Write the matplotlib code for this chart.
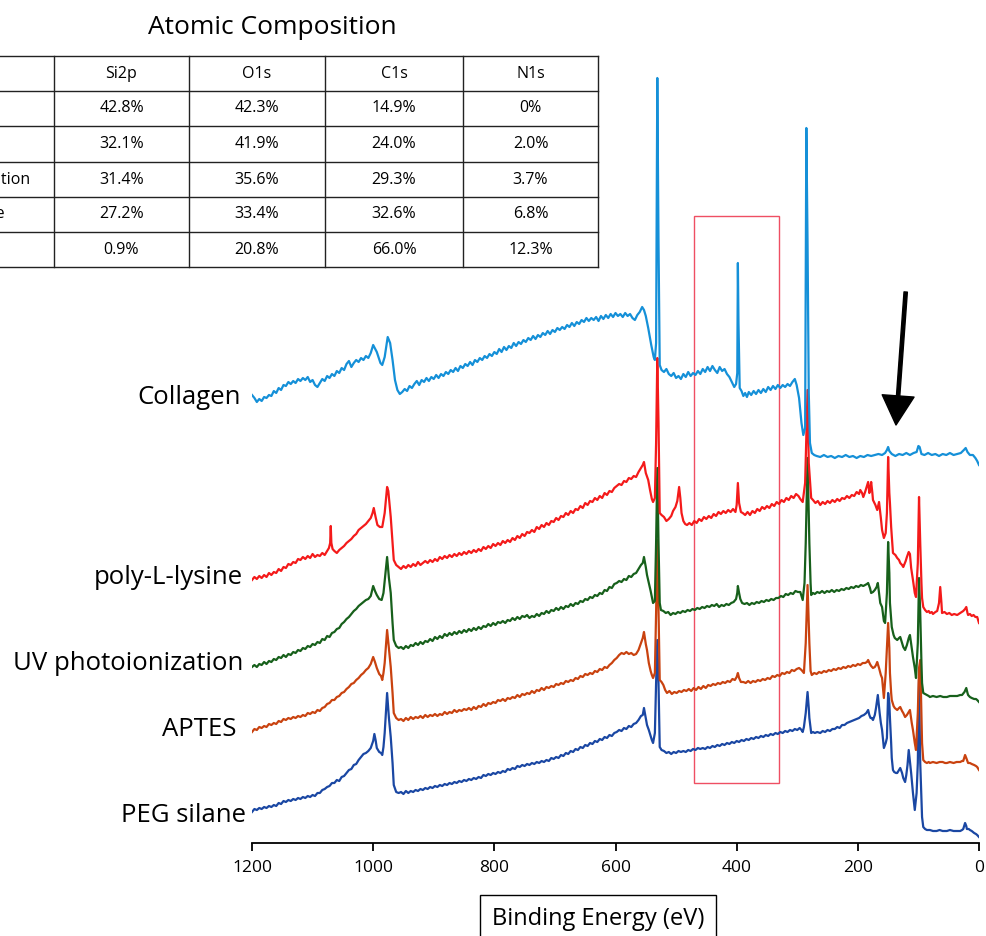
import matplotlib
matplotlib.use("Agg")
import matplotlib.pyplot as plt
from matplotlib.patches import Rectangle

plt.rcParams['font.family'] = ['Open Sans', 'DejaVu Sans']

# XPS survey spectra: (binding energy eV, intensity a.u. incl. stack offset)
collagen = [
    (1200, 448), (1196, 445), (1192, 441), (1188, 444), (1184, 442), (1180, 446), (1176, 445),
    (1172, 448), (1168, 447), (1164, 452), (1160, 450), (1156, 455), (1152, 453), (1148, 458),
    (1144, 457), (1140, 461), (1136, 459), (1132, 462), (1128, 460), (1124, 464), (1120, 462),
    (1116, 465), (1112, 463), (1108, 466), (1104, 461), (1100, 463), (1096, 458), (1092, 456),
    (1088, 460), (1084, 464), (1080, 462), (1076, 467), (1072, 465), (1068, 469), (1064, 467),
    (1060, 472), (1056, 470), (1052, 475), (1048, 473), (1044, 479), (1040, 482), (1036, 476),
    (1032, 480), (1028, 483), (1024, 481), (1020, 485), (1016, 483), (1012, 487), (1008, 485),
    (1004, 490), (1000, 498), (994, 491), (988, 480), (985, 478), (981, 486), (976, 506),
    (972, 500), (968, 483), (964, 463), (960, 453), (956, 449), (952, 451), (948, 454),
    (944, 452), (940, 457), (936, 455), (932, 459), (928, 462), (924, 458), (920, 463),
    (916, 461), (912, 465), (908, 462), (904, 466), (900, 464), (896, 468), (892, 465),
    (888, 469), (884, 467), (880, 471), (876, 469), (872, 473), (868, 471), (864, 475),
    (860, 472), (856, 477), (852, 475), (848, 479), (844, 477), (840, 481), (836, 478),
    (832, 483), (828, 481), (824, 485), (820, 483), (816, 487), (812, 485), (808, 489),
    (804, 487), (800, 491), (796, 489), (792, 494), (788, 491), (784, 496), (780, 493),
    (776, 497), (772, 495), (768, 500), (764, 497), (760, 501), (756, 499), (752, 503),
    (748, 501), (744, 505), (740, 503), (736, 507), (732, 504), (728, 508), (724, 506),
    (720, 510), (716, 508), (712, 512), (708, 509), (704, 513), (700, 511), (696, 515),
    (692, 513), (688, 516), (684, 514), (680, 518), (676, 516), (672, 520), (668, 517),
    (664, 521), (660, 519), (656, 523), (652, 521), (648, 525), (644, 522), (640, 525),
    (636, 523), (632, 526), (628, 522), (624, 527), (620, 524), (616, 528), (612, 525),
    (608, 529), (604, 526), (600, 530), (596, 527), (592, 529), (588, 526), (584, 530),
    (580, 527), (576, 529), (572, 525), (568, 523), (564, 528), (560, 531), (556, 536),
    (553, 533), (550, 527), (546, 515), (541, 498), (537, 486), (535, 483), (533, 500),
    (531, 765), (529, 600), (527, 478), (524, 473), (520, 471), (516, 474), (512, 469),
    (508, 467), (504, 470), (500, 465), (496, 467), (492, 464), (488, 469), (484, 466),
    (480, 471), (476, 467), (472, 470), (468, 468), (464, 472), (460, 469), (456, 474),
    (452, 471), (448, 476), (444, 472), (440, 477), (436, 473), (432, 470), (428, 476),
    (424, 472), (420, 474), (416, 469), (412, 466), (408, 461), (404, 456), (401, 459),
    (399, 470), (398, 580), (397, 520), (395, 455), (392, 452), (389, 447), (386, 450),
    (383, 446), (380, 451), (376, 448), (372, 452), (368, 449), (364, 453), (360, 450),
    (356, 454), (352, 451), (348, 456), (344, 453), (340, 457), (336, 454), (332, 458),
    (328, 455), (324, 458), (320, 456), (316, 459), (312, 457), (308, 461), (304, 464),
    (301, 458), (297, 445), (293, 420), (290, 408), (287, 415), (285, 715), (283, 600),
    (281, 450), (279, 400), (276, 390), (272, 388), (268, 387), (262, 386), (256, 388),
    (250, 386), (244, 387), (238, 385), (232, 387), (226, 386), (220, 388), (214, 386),
    (208, 387), (202, 385), (196, 387), (190, 386), (184, 388), (178, 387), (172, 388),
    (166, 389), (160, 388), (155, 390), (152, 393), (150, 396), (148, 392), (144, 389),
    (138, 387), (132, 389), (126, 388), (120, 390), (114, 388), (108, 390), (103, 391),
    (100, 397), (98, 396), (95, 389), (90, 388), (84, 390), (78, 388), (72, 389), (66, 387),
    (60, 389), (54, 388), (48, 390), (42, 388), (36, 389), (30, 390), (25, 393), (22, 395),
    (19, 391), (15, 388), (10, 388), (6, 385), (3, 382), (0, 378),
]

poly_l_lysine = [
    (1200, 263), (1196, 266), (1192, 264), (1188, 267), (1184, 265), (1180, 268), (1176, 266),
    (1172, 270), (1168, 268), (1164, 271), (1160, 270), (1156, 274), (1152, 272), (1148, 276),
    (1144, 275), (1140, 279), (1136, 278), (1132, 281), (1128, 280), (1124, 284), (1120, 283),
    (1116, 286), (1112, 284), (1108, 287), (1104, 285), (1100, 289), (1096, 286), (1092, 288),
    (1088, 287), (1084, 290), (1080, 288), (1076, 292), (1073, 295), (1071, 300), (1070, 317),
    (1069, 300), (1067, 294), (1064, 292), (1060, 290), (1056, 293), (1052, 295), (1048, 297),
    (1044, 300), (1040, 302), (1036, 304), (1032, 307), (1028, 309), (1024, 313), (1020, 315),
    (1016, 317), (1012, 319), (1008, 322), (1004, 325), (1001, 330), (999, 335), (996, 326),
    (993, 318), (989, 316), (985, 316), (981, 330), (977, 356), (975, 352), (971, 326),
    (966, 283), (962, 278), (958, 276), (954, 274), (950, 277), (946, 275), (942, 278),
    (938, 276), (934, 279), (930, 277), (926, 281), (922, 278), (918, 280), (914, 282),
    (910, 280), (906, 283), (902, 281), (898, 284), (894, 282), (890, 286), (886, 284),
    (882, 287), (878, 285), (874, 288), (870, 286), (866, 289), (862, 287), (858, 290),
    (854, 288), (850, 291), (846, 289), (842, 292), (838, 290), (834, 293), (830, 291),
    (826, 294), (822, 292), (818, 296), (814, 294), (810, 297), (806, 295), (802, 299),
    (798, 297), (794, 300), (790, 298), (786, 302), (782, 300), (778, 303), (774, 301),
    (770, 305), (766, 303), (762, 307), (758, 305), (754, 309), (750, 307), (746, 311),
    (742, 310), (738, 313), (734, 311), (730, 316), (726, 314), (722, 318), (718, 316),
    (714, 320), (710, 318), (706, 322), (702, 321), (698, 325), (694, 323), (690, 327),
    (686, 326), (682, 330), (678, 328), (674, 332), (670, 330), (666, 334), (662, 333),
    (658, 337), (654, 335), (650, 340), (646, 338), (642, 342), (638, 341), (634, 345),
    (630, 343), (626, 347), (622, 345), (618, 350), (614, 348), (610, 352), (606, 351),
    (602, 355), (598, 357), (594, 359), (590, 358), (586, 362), (582, 361), (578, 365),
    (574, 364), (570, 367), (566, 366), (562, 371), (558, 375), (555, 378), (553, 381),
    (550, 370), (546, 363), (543, 353), (540, 344), (538, 341), (535, 345), (533, 400),
    (531, 485), (529, 420), (527, 330), (524, 328), (520, 326), (516, 322), (512, 324),
    (508, 327), (505, 332), (501, 336), (498, 342), (495, 356), (493, 345), (491, 330),
    (488, 322), (485, 319), (482, 318), (478, 320), (474, 318), (470, 322), (466, 320),
    (462, 324), (458, 322), (454, 326), (450, 324), (446, 327), (442, 325), (438, 329),
    (434, 327), (430, 331), (426, 329), (422, 332), (418, 330), (414, 333), (410, 331),
    (406, 334), (402, 331), (400, 338), (398, 360), (396, 340), (393, 331), (390, 330),
    (386, 328), (382, 331), (378, 328), (374, 332), (370, 330), (366, 334), (362, 332),
    (358, 336), (354, 334), (350, 337), (346, 335), (342, 339), (338, 337), (334, 341),
    (330, 339), (326, 343), (322, 341), (318, 345), (314, 343), (310, 347), (306, 345),
    (302, 349), (298, 347), (295, 344), (291, 341), (287, 360), (285, 405), (283, 453),
    (281, 380), (277, 345), (274, 343), (270, 340), (266, 342), (262, 338), (258, 341),
    (254, 339), (250, 342), (246, 340), (242, 343), (238, 341), (234, 344), (230, 342),
    (226, 345), (222, 344), (218, 347), (214, 345), (210, 348), (206, 347), (202, 351),
    (198, 349), (196, 353), (193, 350), (191, 346), (188, 351), (186, 355), (183, 361),
    (181, 350), (179, 356), (178, 361), (176, 350), (175, 343), (171, 338), (168, 333),
    (165, 341), (162, 325), (160, 313), (157, 305), (154, 310), (152, 330), (150, 386),
    (148, 350), (147, 340), (145, 316), (142, 290), (138, 288), (135, 285), (132, 283),
    (130, 280), (127, 278), (125, 276), (121, 282), (119, 286), (116, 291), (114, 289),
    (112, 275), (109, 263), (106, 250), (104, 246), (101, 280), (99, 346), (97, 300),
    (95, 260), (94, 245), (92, 236), (89, 233), (86, 231), (83, 232), (81, 230), (78, 231),
    (76, 229), (72, 231), (69, 232), (66, 240), (64, 256), (62, 240), (61, 230), (57, 231),
    (53, 229), (49, 230), (45, 228), (41, 229), (36, 228), (31, 230), (26, 232), (23, 234),
    (21, 236), (19, 230), (18, 228), (15, 229), (12, 227), (9, 228), (6, 226), (3, 226),
    (0, 220),
]

uv_photoionization = [
    (1200, 176), (1196, 178), (1192, 176), (1188, 179), (1184, 178), (1180, 181), (1176, 179),
    (1172, 182), (1168, 181), (1164, 184), (1160, 183), (1156, 186), (1152, 185), (1148, 188),
    (1144, 186), (1140, 189), (1136, 188), (1132, 191), (1128, 190), (1124, 193), (1120, 192),
    (1116, 195), (1112, 194), (1108, 197), (1104, 196), (1100, 199), (1096, 198), (1092, 201),
    (1088, 200), (1084, 204), (1080, 203), (1076, 207), (1072, 206), (1068, 210), (1064, 211),
    (1060, 214), (1056, 215), (1052, 219), (1048, 221), (1044, 224), (1040, 226), (1036, 229),
    (1032, 232), (1028, 234), (1024, 237), (1020, 239), (1016, 241), (1012, 243), (1008, 244),
    (1004, 247), (1000, 257), (997, 252), (994, 248), (990, 244), (986, 243), (983, 250),
    (981, 262), (977, 286), (974, 265), (971, 250), (968, 220), (966, 203), (962, 197),
    (958, 195), (954, 196), (950, 194), (946, 197), (942, 195), (938, 198), (934, 197),
    (930, 200), (926, 198), (922, 201), (918, 199), (914, 202), (910, 201), (906, 204),
    (902, 202), (898, 206), (894, 204), (890, 207), (886, 205), (882, 209), (878, 207),
    (874, 210), (870, 208), (866, 211), (862, 209), (858, 212), (854, 210), (850, 213),
    (846, 211), (842, 214), (838, 212), (834, 215), (830, 213), (826, 216), (822, 214),
    (818, 217), (814, 216), (810, 219), (806, 217), (802, 220), (798, 218), (794, 221),
    (790, 220), (786, 222), (782, 220), (778, 223), (774, 222), (770, 225), (766, 223),
    (762, 226), (758, 224), (754, 227), (750, 226), (746, 228), (742, 225), (738, 227),
    (734, 226), (730, 229), (726, 227), (722, 230), (718, 229), (714, 232), (710, 230),
    (706, 233), (702, 232), (698, 235), (694, 233), (690, 236), (686, 234), (682, 237),
    (678, 236), (674, 239), (670, 237), (666, 240), (662, 239), (658, 242), (654, 241),
    (650, 244), (646, 243), (642, 246), (638, 245), (634, 248), (630, 247), (626, 250),
    (622, 249), (618, 253), (614, 252), (610, 256), (606, 255), (602, 259), (598, 260),
    (594, 262), (590, 261), (586, 264), (582, 263), (578, 267), (574, 266), (570, 269),
    (566, 270), (562, 274), (558, 278), (555, 280), (553, 286), (550, 276), (548, 268),
    (545, 260), (542, 252), (540, 246), (538, 240), (535, 242), (533, 300), (531, 375),
    (529, 300), (527, 240), (525, 233), (521, 232), (517, 230), (513, 231), (509, 228),
    (505, 230), (501, 229), (497, 231), (493, 230), (489, 232), (485, 231), (481, 233),
    (477, 232), (473, 234), (469, 233), (465, 235), (461, 234), (457, 236), (453, 235),
    (449, 237), (445, 236), (441, 238), (437, 237), (433, 239), (429, 236), (425, 238),
    (421, 237), (417, 239), (413, 238), (409, 240), (405, 241), (401, 244), (399, 250),
    (398, 257), (396, 250), (394, 244), (391, 240), (387, 239), (383, 240), (379, 238),
    (375, 240), (371, 239), (367, 241), (363, 240), (359, 242), (355, 241), (351, 243),
    (347, 242), (343, 244), (339, 243), (335, 245), (331, 245), (327, 247), (323, 246),
    (319, 249), (315, 248), (311, 250), (307, 249), (303, 252), (299, 251), (295, 251),
    (291, 243), (288, 260), (286, 300), (283, 385), (280, 300), (278, 260), (277, 248),
    (274, 250), (271, 249), (267, 251), (263, 250), (259, 252), (255, 250), (251, 252),
    (247, 251), (243, 253), (239, 251), (235, 253), (231, 252), (227, 254), (223, 253),
    (219, 255), (215, 254), (211, 256), (207, 255), (203, 257), (199, 256), (195, 258),
    (191, 257), (188, 258), (185, 259), (183, 260), (180, 255), (178, 250), (175, 251),
    (172, 253), (169, 256), (167, 260), (165, 250), (163, 240), (160, 236), (157, 222),
    (155, 220), (152, 250), (150, 301), (148, 270), (147, 240), (144, 216), (141, 208),
    (139, 205), (137, 204), (135, 203), (132, 205), (130, 206), (127, 200), (125, 196),
    (122, 193), (119, 198), (116, 205), (114, 208), (111, 195), (109, 186), (106, 175),
    (104, 165), (101, 200), (99, 265), (97, 230), (95, 180), (94, 160), (92, 150), (89, 149),
    (86, 148), (83, 147), (81, 146), (76, 147), (70, 146), (64, 147), (59, 146), (53, 146),
    (48, 147), (42, 147), (36, 147), (31, 148), (28, 148), (24, 151), (21, 155), (19, 150),
    (18, 148), (15, 146), (12, 145), (8, 144), (5, 144), (3, 143), (0, 141),
]

aptes = [
    (1200, 111), (1196, 114), (1192, 113), (1188, 116), (1184, 115), (1180, 117), (1176, 116),
    (1172, 119), (1168, 118), (1164, 120), (1160, 119), (1156, 122), (1152, 121), (1148, 124),
    (1144, 123), (1140, 125), (1136, 124), (1132, 126), (1128, 125), (1124, 127), (1120, 126),
    (1116, 128), (1112, 127), (1108, 130), (1104, 129), (1100, 131), (1096, 130), (1092, 133),
    (1088, 132), (1084, 135), (1080, 136), (1076, 139), (1072, 140), (1068, 143), (1064, 143),
    (1060, 146), (1056, 147), (1052, 150), (1048, 151), (1044, 154), (1040, 156), (1036, 159),
    (1032, 160), (1028, 163), (1024, 165), (1020, 168), (1016, 170), (1012, 173), (1008, 175),
    (1004, 179), (1000, 186), (997, 181), (994, 175), (990, 169), (987, 167), (985, 163),
    (983, 170), (981, 180), (977, 213), (974, 195), (971, 176), (968, 150), (966, 130),
    (962, 125), (958, 123), (954, 124), (950, 122), (946, 125), (942, 123), (938, 126),
    (934, 124), (930, 126), (926, 125), (922, 127), (918, 125), (914, 128), (910, 126),
    (906, 128), (902, 127), (898, 129), (894, 127), (890, 129), (886, 128), (882, 131),
    (878, 129), (874, 131), (870, 130), (866, 133), (862, 131), (858, 133), (854, 132),
    (850, 134), (846, 133), (842, 135), (838, 133), (834, 136), (830, 134), (826, 137),
    (822, 136), (818, 139), (814, 137), (810, 140), (806, 139), (802, 141), (798, 140),
    (794, 143), (790, 142), (786, 144), (782, 142), (778, 145), (774, 144), (770, 146),
    (766, 145), (762, 148), (758, 146), (754, 149), (750, 148), (746, 150), (742, 149),
    (738, 152), (734, 150), (730, 153), (726, 152), (722, 155), (718, 153), (714, 156),
    (710, 155), (706, 157), (702, 156), (698, 159), (694, 158), (690, 160), (686, 159),
    (682, 162), (678, 161), (674, 163), (670, 162), (666, 165), (662, 164), (658, 167),
    (654, 166), (650, 169), (646, 168), (642, 170), (638, 169), (634, 172), (630, 171),
    (626, 174), (622, 173), (618, 176), (614, 175), (610, 178), (606, 180), (602, 183),
    (598, 185), (594, 188), (590, 190), (586, 189), (582, 191), (578, 189), (574, 190),
    (570, 188), (566, 189), (562, 193), (558, 200), (555, 205), (553, 211), (550, 199),
    (548, 193), (545, 180), (542, 172), (540, 168), (538, 165), (535, 170), (533, 230),
    (531, 303), (529, 230), (527, 163), (524, 161), (521, 158), (518, 153), (515, 150),
    (511, 152), (507, 149), (503, 151), (499, 150), (495, 152), (491, 151), (487, 153),
    (483, 152), (479, 154), (475, 152), (471, 155), (467, 153), (463, 156), (459, 154),
    (455, 157), (451, 155), (447, 158), (443, 157), (439, 159), (435, 158), (431, 160),
    (427, 159), (423, 161), (419, 160), (415, 162), (411, 161), (407, 164), (403, 163),
    (400, 166), (398, 170), (396, 165), (393, 161), (389, 161), (385, 160), (381, 162),
    (377, 160), (373, 162), (369, 161), (365, 163), (361, 162), (357, 164), (353, 163),
    (349, 165), (345, 164), (341, 167), (337, 166), (333, 168), (329, 167), (325, 170),
    (321, 169), (317, 171), (313, 170), (309, 173), (305, 172), (301, 174), (297, 175),
    (293, 173), (289, 170), (286, 200), (283, 258), (280, 200), (278, 172), (276, 168),
    (272, 170), (268, 169), (264, 171), (260, 170), (256, 172), (252, 171), (248, 173),
    (244, 172), (240, 174), (236, 173), (232, 175), (228, 174), (224, 176), (220, 175),
    (216, 177), (212, 176), (208, 178), (204, 177), (200, 179), (196, 178), (192, 180),
    (188, 180), (185, 181), (183, 183), (180, 179), (178, 177), (175, 175), (172, 176),
    (170, 178), (168, 181), (165, 175), (162, 168), (160, 165), (158, 152), (157, 145),
    (154, 170), (152, 195), (150, 220), (148, 195), (147, 170), (145, 150), (144, 143),
    (141, 137), (139, 135), (137, 134), (135, 133), (132, 135), (130, 136), (127, 132),
    (125, 130), (122, 126), (119, 128), (116, 131), (114, 133), (111, 120), (109, 113),
    (106, 100), (104, 93), (101, 130), (99, 175), (97, 183), (95, 130), (94, 100), (92, 83),
    (89, 81), (86, 80), (83, 81), (81, 80), (76, 81), (70, 80), (65, 81), (60, 81), (56, 80),
    (53, 80), (48, 81), (42, 80), (37, 81), (31, 81), (28, 82), (26, 82), (23, 88), (21, 85),
    (18, 80), (15, 80), (12, 79), (8, 78), (5, 77), (3, 76), (0, 73),
]

peg_silane = [
    (1200, 31), (1196, 34), (1192, 33), (1188, 35), (1184, 34), (1180, 36), (1176, 35),
    (1172, 37), (1168, 36), (1164, 38), (1160, 37), (1156, 40), (1152, 39), (1148, 42),
    (1144, 41), (1140, 43), (1136, 42), (1132, 44), (1128, 43), (1124, 45), (1120, 44),
    (1116, 46), (1112, 45), (1108, 47), (1104, 46), (1100, 48), (1096, 47), (1092, 50),
    (1088, 50), (1084, 53), (1080, 54), (1076, 56), (1072, 57), (1068, 60), (1064, 60),
    (1060, 63), (1056, 62), (1052, 66), (1048, 67), (1044, 70), (1040, 73), (1036, 74),
    (1032, 78), (1028, 79), (1024, 83), (1020, 86), (1016, 89), (1012, 90), (1008, 92),
    (1004, 95), (1000, 102), (998, 109), (996, 103), (994, 95), (990, 91), (987, 90),
    (985, 88), (983, 96), (981, 110), (977, 150), (974, 125), (971, 106), (968, 80),
    (966, 58), (962, 51), (958, 50), (954, 51), (950, 49), (946, 52), (942, 50), (938, 52),
    (934, 51), (930, 53), (926, 52), (922, 54), (918, 53), (914, 55), (910, 54), (906, 56),
    (902, 55), (898, 57), (894, 56), (890, 58), (886, 57), (882, 59), (878, 58), (874, 60),
    (870, 59), (866, 61), (862, 60), (858, 62), (854, 61), (850, 63), (846, 62), (842, 64),
    (838, 63), (834, 65), (830, 64), (826, 66), (822, 65), (818, 68), (814, 67), (810, 69),
    (806, 68), (802, 70), (798, 69), (794, 71), (790, 70), (786, 72), (782, 71), (778, 74),
    (774, 73), (770, 75), (766, 74), (762, 77), (758, 76), (754, 78), (750, 77), (746, 79),
    (742, 78), (738, 80), (734, 79), (730, 81), (726, 80), (722, 82), (718, 81), (714, 83),
    (710, 82), (706, 85), (702, 84), (698, 86), (694, 85), (690, 88), (686, 87), (682, 90),
    (678, 89), (674, 92), (670, 91), (666, 94), (662, 93), (658, 96), (654, 95), (650, 98),
    (646, 97), (642, 100), (638, 99), (634, 102), (630, 101), (626, 104), (622, 103),
    (618, 106), (614, 105), (610, 108), (606, 107), (602, 110), (598, 111), (594, 113),
    (590, 112), (586, 115), (582, 114), (578, 117), (574, 116), (570, 119), (566, 120),
    (562, 123), (558, 127), (555, 128), (553, 135), (550, 125), (548, 118), (545, 113),
    (542, 107), (540, 103), (538, 100), (535, 110), (533, 160), (531, 203), (529, 160),
    (527, 96), (524, 93), (520, 92), (516, 90), (512, 91), (508, 89), (504, 91), (500, 90),
    (496, 92), (492, 91), (488, 92), (484, 91), (480, 93), (476, 92), (472, 94), (468, 93),
    (464, 95), (460, 94), (456, 95), (452, 94), (448, 96), (444, 95), (440, 97), (436, 96),
    (432, 98), (428, 97), (424, 99), (420, 98), (416, 100), (412, 99), (408, 101), (404, 100),
    (400, 102), (396, 101), (392, 103), (388, 102), (384, 104), (380, 103), (376, 105),
    (372, 104), (368, 106), (364, 105), (360, 107), (356, 106), (352, 108), (348, 107),
    (344, 109), (340, 108), (336, 110), (332, 109), (328, 111), (324, 110), (320, 112),
    (316, 111), (312, 113), (308, 112), (304, 114), (300, 113), (296, 115), (293, 113),
    (291, 111), (289, 116), (286, 130), (283, 151), (281, 135), (280, 125), (277, 110),
    (274, 111), (271, 110), (267, 111), (262, 110), (258, 112), (254, 111), (250, 113),
    (246, 112), (242, 114), (238, 114), (234, 116), (230, 115), (226, 118), (222, 118),
    (218, 120), (214, 121), (210, 122), (206, 123), (202, 124), (198, 125), (194, 127),
    (190, 128), (186, 130), (183, 133), (181, 128), (179, 125), (177, 125), (175, 123),
    (172, 128), (170, 135), (167, 148), (164, 130), (162, 120), (160, 113), (157, 95),
    (154, 100), (152, 105), (150, 150), (148, 140), (147, 125), (145, 100), (144, 85),
    (142, 73), (140, 71), (137, 70), (135, 70), (132, 73), (130, 75), (127, 70), (125, 65),
    (122, 61), (120, 68), (118, 78), (116, 93), (114, 82), (112, 70), (109, 50), (106, 33),
    (103, 50), (101, 80), (99, 163), (97, 80), (95, 45), (94, 26), (92, 16), (89, 14),
    (86, 13), (83, 13), (81, 13), (76, 12), (70, 12), (65, 13), (60, 12), (56, 12), (53, 12),
    (48, 13), (42, 12), (37, 12), (31, 12), (28, 13), (26, 14), (23, 20), (21, 17), (20, 14),
    (17, 14), (15, 13), (12, 12), (8, 10), (5, 9), (3, 8), (0, 6),
]

series_names = ['PEG silane', 'APTES', 'UV photoionization', 'poly-L-lysine', 'Collagen']
series_data = [peg_silane, aptes, uv_photoionization, poly_l_lysine, collagen]
series_colors = ['#1a47a3', '#c9420f', '#17601b', '#f41a1a', '#1590d8']

# table of atomic composition
elements = ['Si2p', 'O1s', 'C1s', 'N1s']
composition = [
    ['42.8%', '42.3%', '14.9%', '0%'],
    ['32.1%', '41.9%', '24.0%', '2.0%'],
    ['31.4%', '35.6%', '29.3%', '3.7%'],
    ['27.2%', '33.4%', '32.6%', '6.8%'],
    ['0.9%', '20.8%', '66.0%', '12.3%'],
]

W, H = 986, 936
fig = plt.figure(figsize=(W / 100, H / 100), dpi=100)

ax = fig.add_axes([252 / W, 93 / H, 727 / W, 803 / H])
ax.set_xlim(1200, 0)
ax.set_ylim(0, 803)
for s in ['left', 'right', 'top']:
    ax.spines[s].set_visible(False)
ax.spines['bottom'].set_linewidth(1.3)
ax.set_yticks([])
ax.set_xticks(range(0, 1201, 200))
ax.tick_params(axis='x', direction='out', length=6, width=1.3, labelsize=12.5, pad=6)
ax.patch.set_visible(False)

for name, data, color in zip(series_names, series_data, series_colors):
    ev = [p[0] for p in data]
    counts = [p[1] for p in data]
    ax.plot(ev, counts, color=color, lw=1.6, solid_joinstyle='round')

ax.add_patch(Rectangle((330, 60), 140, 567, fill=False, ec='#ef4f63', lw=1.0))
ax.annotate('', xy=(137, 418), xytext=(121, 551),
            arrowprops=dict(facecolor='black', edgecolor='black', width=2.4,
                            headwidth=23, headlength=21, shrink=0))

# overlay in pixel units for the sample names and the table
lay = fig.add_axes([0, 0, 1, 1], zorder=-1)
lay.set_xlim(0, W)
lay.set_ylim(H, 0)
lay.axis('off')

label_y = [815, 730, 663, 578, 398]
label_x = [246, 236, 243, 243, 241]
for name, y, x in zip(series_names, label_y, label_x):
    lay.text(x, y, name, ha='right', va='center', fontsize=18.5)

lay.text(272, 27, 'Atomic Composition', ha='center', va='center', fontsize=19)

col_x = [-136, 54, 189, 325, 463, 598]
row_y = [56, 91, 126, 162, 197, 232, 267]
for y in row_y:
    lay.plot([col_x[0], col_x[-1]], [y, y], color='#222222', lw=1.0, clip_on=False)
for x in col_x:
    lay.plot([x, x], [row_y[0], row_y[-1]], color='#222222', lw=1.0, clip_on=False)

cx = [(col_x[i] + col_x[i + 1]) / 2 for i in range(len(col_x) - 1)]
cy = [(row_y[i] + row_y[i + 1]) / 2 for i in range(len(row_y) - 1)]
for j, el in enumerate(elements):
    lay.text(cx[j + 1], cy[0], el, ha='center', va='center', fontsize=11.5)
for i, row in enumerate(composition):
    # sample names sit in the first column, which runs off the left edge
    lay.text(cx[0], cy[i + 1], series_names[i], ha='center', va='center', fontsize=11.5)
    for j, v in enumerate(row):
        lay.text(cx[j + 1], cy[i + 1], v, ha='center', va='center', fontsize=11.5)

lay.text(598, 919, 'Binding Energy (eV)', ha='center', va='center', fontsize=17,
         bbox=dict(boxstyle='square,pad=0.5', fc='white', ec='black', lw=1.0))

fig.savefig('out.png', dpi=100)
